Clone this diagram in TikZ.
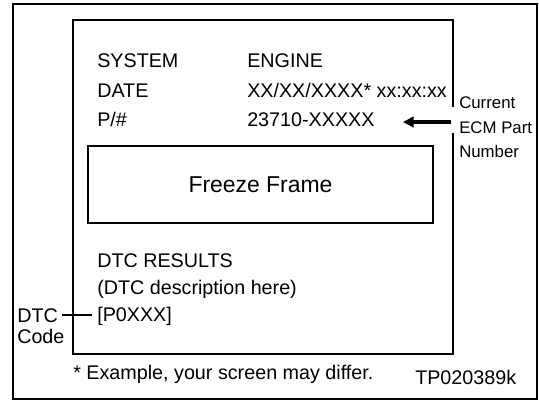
\documentclass[tikz,border=0pt]{standalone}
\usepackage{fontspec}
\setmainfont{Liberation Sans}
\usetikzlibrary{arrows.meta}
\tikzset{
  txt/.style={anchor=base west, inner sep=0pt, font=\fontsize{14.8pt}{17pt}\selectfont},
  sidelbl/.style={anchor=base west, inner sep=0pt, font=\fontsize{12.6pt}{15pt}\selectfont},
  frame/.style={draw=black, line width=1.5pt},
  ffbox/.style={draw=black, line width=2.2pt, minimum width=258.75pt, minimum height=57.75pt, inner sep=0pt, font=\fontsize{17.2pt}{20pt}\selectfont},
  bigarrow/.style={line width=3.2pt, -{Triangle[length=8pt,width=8pt]}},
  thin/.style={line width=0.9pt}
}
\begin{document}
\begin{tikzpicture}[x=0.75pt, y=-0.75pt]
\useasboundingbox (0,0) rectangle (539,400);
% outer frame
\draw[frame] (13,4) rectangle (537,399);
% screen frame (right side broken for label)
\draw[frame] (452.5,107) -- (452.5,20) -- (73,20) -- (73,354) -- (452.5,354) -- (452.5,133);
% header texts
\node[txt] (sys) at (97,67) {SYSTEM};
\node[txt] (date) at (97,97) {DATE};
\node[txt] (pn) at (97,126) {P/\#};
\node[txt] (sysv) at (247,67) {ENGINE};
\node[txt] (datev) at (247,97) {XX/XX/XXXX* xx:xx:xx};
\node[txt] (pnv) at (247,126) {23710-XXXXX};
% side label
\node[sidelbl] (cur) at (459,108) {Current};
\node[sidelbl] (ecm) at (459,133) {ECM Part};
\node[sidelbl] (num) at (459,157) {Number};
\coordinate (arrstart) at (451,122);
\coordinate (arrtip) at (403,122);
\draw[bigarrow] (arrstart) -- (arrtip);
% freeze frame box
\node[ffbox] (ff) at (260.5,184.5) {Freeze Frame};
% DTC results
\node[txt] (res) at (97,267) {DTC RESULTS};
\node[txt] (desc) at (97,294) {(DTC description here)};
\node[txt] (code) at (97,321) {[P0XXX]};
\node[txt] (dtc) at (17,322) {DTC};
\node[txt] (codelbl) at (17,343) {Code};
\coordinate (ln1) at (62,315);
\coordinate (ln2) at (92,315);
\draw[thin] (ln1) -- (ln2);
% footer
\node[txt] (note) at (73,379) {* Example, your screen may differ.};
\node[txt] (tp) at (415,384) {TP020389k};
\end{tikzpicture}
\end{document}
